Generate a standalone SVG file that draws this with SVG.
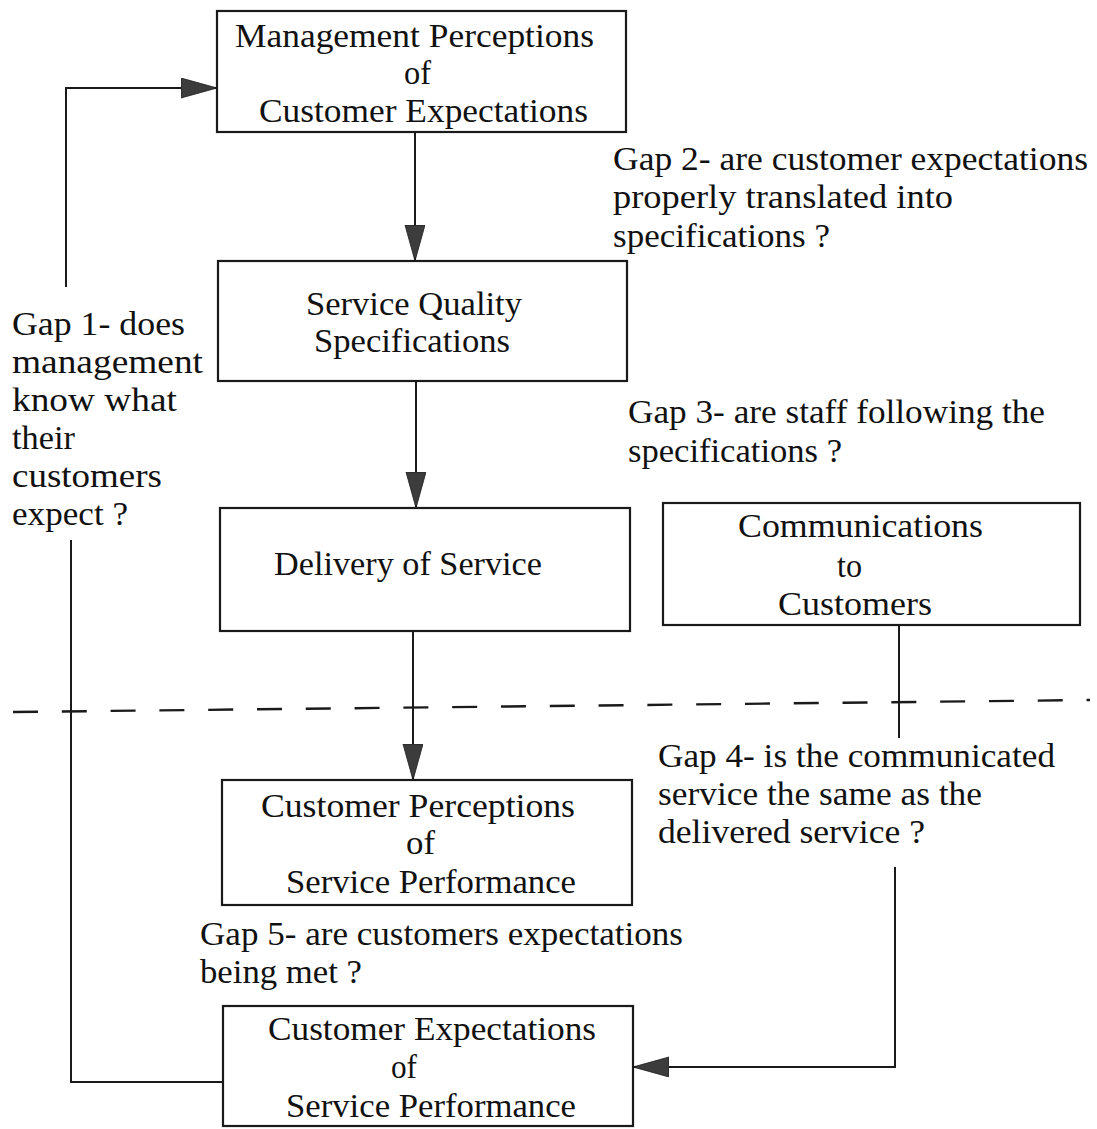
<svg xmlns="http://www.w3.org/2000/svg" width="1097" height="1129" viewBox="0 0 1097 1129">
  <style>
    .box { fill: #ffffff; stroke: #1a1a1a; stroke-width: 2.2; }
    .link { fill: none; stroke: #1a1a1a; stroke-width: 2; }
    .divider { fill: none; stroke: #1a1a1a; stroke-width: 2.4; stroke-dasharray: 25 23.8; }
    .lbl { font-family: "Liberation Serif", "Times New Roman", serif; font-size: 33px; fill: #111111; }
    .gap { font-family: "Liberation Serif", "Times New Roman", serif; font-size: 34px; fill: #111111; }
  </style>
  <defs>
    <marker id="head" markerUnits="userSpaceOnUse" markerWidth="38" markerHeight="22" refX="36" refY="10" orient="auto">
      <path d="M0,0 L36,10 L0,20 Z" fill="#3c3c3c" stroke="#1a1a1a" stroke-width="0.8"/>
    </marker>
  </defs>

  <rect width="1097" height="1129" fill="#ffffff"/>

  <!-- dashed boundary line -->
  <line class="divider" x1="13" y1="712" x2="1090" y2="700"/>

  <!-- connectors -->
  <g id="connectors">
    <path class="link" d="M66,287 V88 H217" marker-end="url(#head)"/>
    <path class="link" d="M415,132 V261" marker-end="url(#head)"/>
    <path class="link" d="M416,381 V508" marker-end="url(#head)"/>
    <path class="link" d="M413,631 V780" marker-end="url(#head)"/>
    <path class="link" d="M899,625 V738"/>
    <path class="link" d="M895,867 V1067 H633" marker-end="url(#head)"/>
    <path class="link" d="M71,540 V1082 H223"/>
  </g>

  <!-- nodes -->
  <g id="mgmt-perceptions">
    <rect class="box" x="217" y="11" width="409" height="121"/>
    <text class="lbl" x="235" y="47" textLength="359" lengthAdjust="spacingAndGlyphs">Management Perceptions</text>
    <text class="lbl" x="404" y="84" textLength="27" lengthAdjust="spacingAndGlyphs">of</text>
    <text class="lbl" x="259" y="122" textLength="329" lengthAdjust="spacingAndGlyphs">Customer Expectations</text>
  </g>

  <g id="quality-specs">
    <rect class="box" x="218" y="261" width="409" height="120"/>
    <text class="lbl" x="306" y="315" textLength="216" lengthAdjust="spacingAndGlyphs">Service Quality</text>
    <text class="lbl" x="314" y="352" textLength="196" lengthAdjust="spacingAndGlyphs">Specifications</text>
  </g>

  <g id="delivery">
    <rect class="box" x="220" y="508" width="410" height="123"/>
    <text class="lbl" x="274" y="575" textLength="268" lengthAdjust="spacingAndGlyphs">Delivery of Service</text>
  </g>

  <g id="communications">
    <rect class="box" x="663" y="503" width="417" height="122"/>
    <text class="lbl" x="738" y="537" textLength="245" lengthAdjust="spacingAndGlyphs">Communications</text>
    <text class="lbl" x="837" y="577" textLength="25" lengthAdjust="spacingAndGlyphs">to</text>
    <text class="lbl" x="778" y="615" textLength="154" lengthAdjust="spacingAndGlyphs">Customers</text>
  </g>

  <g id="customer-perceptions">
    <rect class="box" x="222" y="780" width="410" height="125"/>
    <text class="lbl" x="261" y="817" textLength="314" lengthAdjust="spacingAndGlyphs">Customer Perceptions</text>
    <text class="lbl" x="406" y="854" textLength="29" lengthAdjust="spacingAndGlyphs">of</text>
    <text class="lbl" x="286" y="893" textLength="290" lengthAdjust="spacingAndGlyphs">Service Performance</text>
  </g>

  <g id="customer-expectations">
    <rect class="box" x="223" y="1006" width="410" height="120"/>
    <text class="lbl" x="268" y="1040" textLength="328" lengthAdjust="spacingAndGlyphs">Customer Expectations</text>
    <text class="lbl" x="391" y="1078" textLength="26" lengthAdjust="spacingAndGlyphs">of</text>
    <text class="lbl" x="286" y="1117" textLength="290" lengthAdjust="spacingAndGlyphs">Service Performance</text>
  </g>

  <!-- gap annotations -->
  <g id="gap1">
    <text class="gap" x="12" y="335" textLength="173" lengthAdjust="spacingAndGlyphs">Gap 1- does</text>
    <text class="gap" x="12" y="373" textLength="191" lengthAdjust="spacingAndGlyphs">management</text>
    <text class="gap" x="12" y="411" textLength="165" lengthAdjust="spacingAndGlyphs">know what</text>
    <text class="gap" x="12" y="449" textLength="63" lengthAdjust="spacingAndGlyphs">their</text>
    <text class="gap" x="12" y="487" textLength="150" lengthAdjust="spacingAndGlyphs">customers</text>
    <text class="gap" x="12" y="525" textLength="116" lengthAdjust="spacingAndGlyphs">expect ?</text>
  </g>

  <g id="gap2">
    <text class="gap" x="613" y="170" textLength="475" lengthAdjust="spacingAndGlyphs">Gap 2- are customer expectations</text>
    <text class="gap" x="613" y="208" textLength="340" lengthAdjust="spacingAndGlyphs">properly translated into</text>
    <text class="gap" x="613" y="247" textLength="217" lengthAdjust="spacingAndGlyphs">specifications ?</text>
  </g>

  <g id="gap3">
    <text class="gap" x="628" y="423" textLength="417" lengthAdjust="spacingAndGlyphs">Gap 3- are staff following the</text>
    <text class="gap" x="628" y="462" textLength="214" lengthAdjust="spacingAndGlyphs">specifications ?</text>
  </g>

  <g id="gap4">
    <text class="gap" x="658" y="767" textLength="397" lengthAdjust="spacingAndGlyphs">Gap 4- is the communicated</text>
    <text class="gap" x="658" y="805" textLength="324" lengthAdjust="spacingAndGlyphs">service the same as the</text>
    <text class="gap" x="658" y="843" textLength="267" lengthAdjust="spacingAndGlyphs">delivered service ?</text>
  </g>

  <g id="gap5">
    <text class="gap" x="200" y="945" textLength="483" lengthAdjust="spacingAndGlyphs">Gap 5- are customers expectations</text>
    <text class="gap" x="200" y="983" textLength="162" lengthAdjust="spacingAndGlyphs">being met ?</text>
  </g>
</svg>
